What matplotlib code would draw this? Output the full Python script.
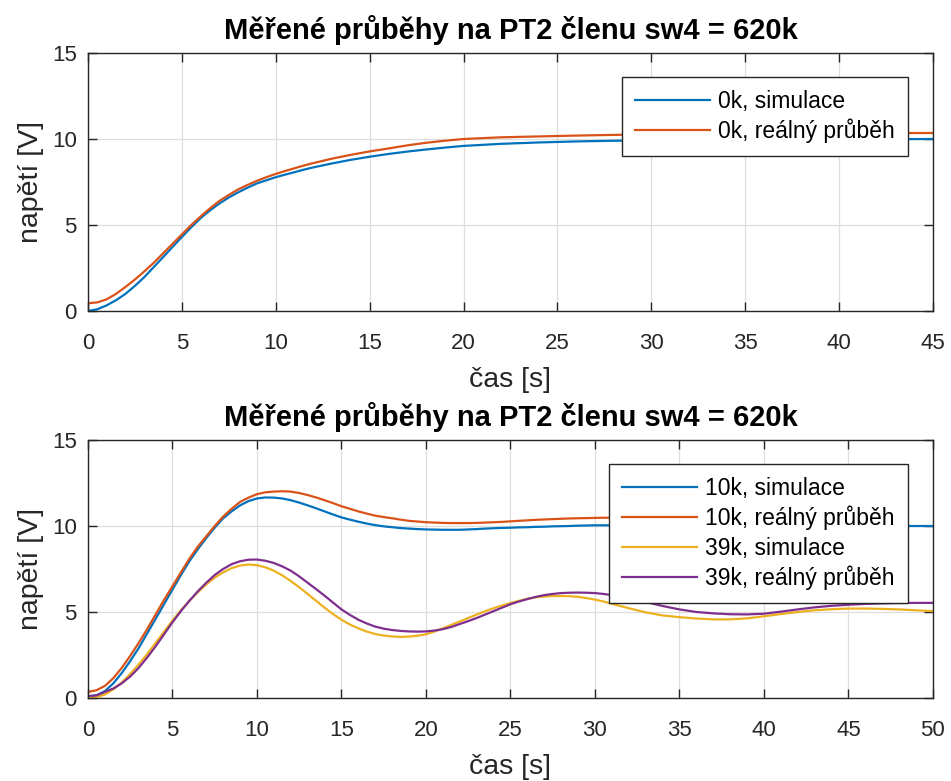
import numpy as np
import matplotlib
matplotlib.use("Agg")
import matplotlib.pyplot as plt

# ── data: PT2 step responses ───────────────────────────────────────────────────

# 0k, top panel
t_top = [0, 0.5, 1, 1.5, 2, 2.5, 3, 3.5, 4, 4.5, 5, 5.5, 6, 6.5, 7, 7.5, 8, 8.5,
         9, 9.5, 10, 10.5, 11, 11.5, 12, 13, 14, 15, 16, 17, 18, 19, 20,
         22, 24, 26, 28, 30, 33, 36, 40, 45]
sim_0k = [0.0, 0.1, 0.33, 0.63, 1.0, 1.46, 1.97, 2.55, 3.13, 3.72, 4.3, 4.87, 5.4,
          5.85, 6.25, 6.6, 6.9, 7.17, 7.42, 7.6, 7.78, 7.93, 8.07, 8.22, 8.35,
          8.58, 8.79, 8.97, 9.13, 9.27, 9.39, 9.5, 9.6,
          9.72, 9.8, 9.86, 9.9, 9.92, 9.94, 9.96, 9.98, 10.0]
real_0k = [0.45, 0.5, 0.68, 1.0, 1.4, 1.83, 2.3, 2.8, 3.35, 3.9, 4.45, 5.0, 5.5,
           5.97, 6.4, 6.75, 7.07, 7.33, 7.57, 7.78, 7.97, 8.14, 8.3, 8.46, 8.6,
           8.86, 9.08, 9.28, 9.45, 9.63, 9.78, 9.9, 10.0,
           10.1, 10.15, 10.2, 10.24, 10.27, 10.3, 10.32, 10.34, 10.35]

# 10k / 39k, bottom panel: 0.5 s samples up to 32 s, then 1 s
t_bot = np.r_[np.arange(0, 32.5, 0.5), np.arange(33, 51)]
t_real10k = np.r_[np.arange(0, 32.5, 0.5), np.arange(33, 46)]

sim_10k = [0.1, 0.15, 0.4, 0.85, 1.45, 2.15, 2.9, 3.75, 4.6, 5.45, 6.3, 7.15, 7.95,
           8.65, 9.3, 9.9, 10.45, 10.85, 11.2, 11.45, 11.6, 11.66, 11.65, 11.6,
           11.5, 11.36, 11.2, 11.03, 10.85, 10.67, 10.5, 10.37, 10.25, 10.14, 10.05,
           9.98, 9.93, 9.88, 9.85, 9.82, 9.8, 9.79, 9.78, 9.78, 9.78, 9.8, 9.82,
           9.85, 9.87, 9.89, 9.9, 9.92, 9.93, 9.95, 9.96, 9.98, 9.99, 10.0, 10.02,
           10.03, 10.04, 10.04, 10.04, 10.04, 10.04,
           10.03, 10.02, 10.01, 10.0, 10.0, 9.99, 9.99, 9.99,
           10.0, 10.0, 10.0, 10.0, 10.0, 10.0, 10.0, 10.0, 10.0, 10.0]
real_10k = [0.35, 0.45, 0.7, 1.15, 1.75, 2.45, 3.2, 4.0, 4.85, 5.7, 6.5, 7.3, 8.1,
            8.8, 9.4, 10.0, 10.55, 11.0, 11.4, 11.65, 11.85, 11.96, 12.0, 12.02,
            12.0, 11.92, 11.8, 11.66, 11.5, 11.33, 11.15, 11.0, 10.85, 10.72, 10.6,
            10.52, 10.45, 10.37, 10.3, 10.26, 10.22, 10.2, 10.18, 10.17, 10.17,
            10.17, 10.18, 10.2, 10.22, 10.24, 10.27, 10.3, 10.33, 10.36, 10.38,
            10.4, 10.42, 10.44, 10.45, 10.46, 10.47, 10.48, 10.48, 10.48, 10.48,
            10.47, 10.46, 10.45, 10.44, 10.43, 10.42, 10.41, 10.4, 10.4, 10.4,
            10.4, 10.4, 10.4]
sim_39k = [0.0, 0.05, 0.2, 0.5, 0.9, 1.4, 1.95, 2.55, 3.2, 3.85, 4.5, 5.1, 5.65,
           6.15, 6.6, 7.0, 7.3, 7.55, 7.7, 7.76, 7.72, 7.6, 7.4, 7.13, 6.8, 6.44,
           6.05, 5.65, 5.25, 4.88, 4.55, 4.27, 4.05, 3.86, 3.72, 3.63, 3.58, 3.55,
           3.57, 3.62, 3.7, 3.86, 4.05, 4.25, 4.45, 4.65, 4.85, 5.04, 5.22, 5.38,
           5.52, 5.65, 5.77, 5.85, 5.9, 5.93, 5.93, 5.92, 5.88, 5.81, 5.72, 5.61,
           5.48, 5.35, 5.22,
           4.98, 4.8, 4.7, 4.62, 4.57, 4.57, 4.63, 4.75, 4.88, 5.0, 5.1, 5.16, 5.2,
           5.2, 5.18, 5.15, 5.1, 5.05]
real_39k = [0.1, 0.15, 0.35, 0.55, 0.85, 1.25, 1.75, 2.35, 3.0, 3.7, 4.4, 5.05, 5.65,
            6.2, 6.7, 7.15, 7.5, 7.78, 7.95, 8.04, 8.05, 7.98, 7.85, 7.65, 7.4,
            7.07, 6.7, 6.33, 5.95, 5.55, 5.15, 4.83, 4.55, 4.33, 4.15, 4.03, 3.95,
            3.9, 3.87, 3.86, 3.87, 3.92, 4.0, 4.13, 4.3, 4.47, 4.65, 4.85, 5.05,
            5.25, 5.45, 5.61, 5.75, 5.88, 5.98, 6.05, 6.1, 6.12, 6.13, 6.12, 6.1,
            6.05, 5.98, 5.9, 5.8,
            5.58, 5.35, 5.15, 5.0, 4.92, 4.87, 4.86, 4.9, 5.02, 5.15, 5.27, 5.36,
            5.42, 5.47, 5.5, 5.52, 5.53, 5.53]

title = "Měřené průběhy na PT2 členu sw4 = 620k"
xlab = "čas [s]"
ylab = "napětí [V]"

# matlab default line colours
C1, C2, C3, C4 = "#0072BD", "#D95319", "#EDB120", "#7E2F8E"
DARK = "#262626"

plt.rcParams["font.family"] = ["Liberation Sans", "DejaVu Sans"]

fig = plt.figure(figsize=(9.51, 7.81), dpi=100)
ax_top = fig.add_axes([0.0925, 0.6018, 0.8885, 0.3303])
ax_bot = fig.add_axes([0.0925, 0.1063, 0.8885, 0.3303])


def style(ax, xmax):
    ax.set_xlim(0, xmax)
    ax.set_ylim(0, 15)
    ax.set_xticks(np.arange(0, xmax + 1, 5))
    ax.set_yticks([0, 5, 10, 15])
    ax.grid(True, color="#dedede", linewidth=0.9)
    ax.set_axisbelow(True)
    ax.tick_params(direction="in", top=True, right=True, length=6.5, width=1,
                   colors=DARK, labelsize=16)
    ax.tick_params(axis="x", pad=16)
    ax.tick_params(axis="y", pad=8)
    for s in ax.spines.values():
        s.set_color(DARK)
        s.set_linewidth(1.0)
    ax.set_title(title, fontsize=21, fontweight="bold", pad=10)
    ax.set_xlabel(xlab, fontsize=20.5, color=DARK, labelpad=9)
    ax.set_ylabel(ylab, fontsize=20.5, color=DARK, labelpad=6)


def add_legend(ax):
    leg = ax.legend(loc="upper right", bbox_to_anchor=(0.970, 0.907),
                    borderaxespad=0, fontsize=16.5, frameon=True, fancybox=False,
                    handlelength=3.3, borderpad=0.55, labelspacing=0.27,
                    handletextpad=0.35)
    leg.get_frame().set_edgecolor(DARK)
    leg.get_frame().set_linewidth(1.0)
    leg.get_frame().set_alpha(1)


lw = 1.6
ax_top.plot(t_top, sim_0k, color=C1, lw=lw, label="0k, simulace")
ax_top.plot(t_top, real_0k, color=C2, lw=lw, label="0k, reálný průběh")
style(ax_top, 45)
add_legend(ax_top)

ax_bot.plot(t_bot, sim_10k, color=C1, lw=lw, label="10k, simulace")
ax_bot.plot(t_real10k, real_10k, color=C2, lw=lw, label="10k, reálný průběh")
ax_bot.plot(t_bot, sim_39k, color=C3, lw=lw, label="39k, simulace")
ax_bot.plot(t_bot, real_39k, color=C4, lw=lw, label="39k, reálný průběh")
style(ax_bot, 50)
add_legend(ax_bot)

fig.savefig("out.png", dpi=100)
